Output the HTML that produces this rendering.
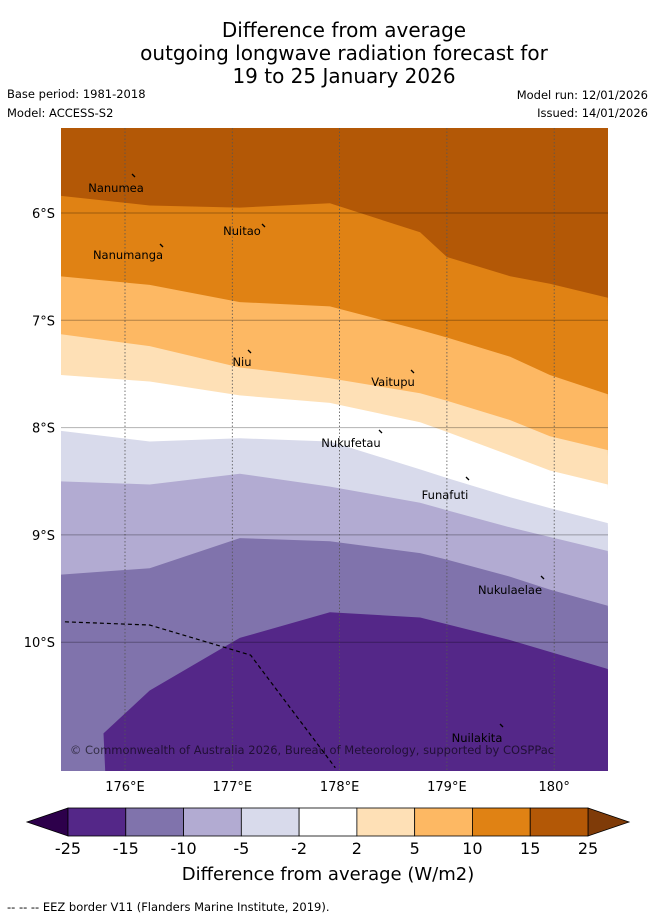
<!DOCTYPE html>
<html><head><meta charset="utf-8"><style>
body{margin:0;width:655px;height:919px;background:#fff;font-family:"DejaVu Sans","Liberation Sans",sans-serif;overflow:hidden}
svg{position:absolute;left:0;top:0}
</style></head><body>
<svg id="c" width="655" height="919">
<text x="344" y="37" font-size="20" text-anchor="middle">Difference from average</text>
<text x="344" y="60" font-size="20" text-anchor="middle">outgoing longwave radiation forecast for</text>
<text x="344" y="83" font-size="20" text-anchor="middle">19 to 25 January 2026</text>
<text x="7" y="98" font-size="11.5">Base period: 1981-2018</text>
<text x="7" y="117" font-size="11.5">Model: ACCESS-S2</text>
<text x="648" y="99" font-size="11.5" text-anchor="end">Model run: 12/01/2026</text>
<text x="648" y="117" font-size="11.5" text-anchor="end">Issued: 14/01/2026</text>
<defs><clipPath id="mapclip"><rect x="61" y="128" width="547" height="643"/></clipPath></defs>
<g id="map" clip-path="url(#mapclip)"></g>
<g id="over"></g>
<text x="7" y="911" font-size="11.5">-- -- -- EEZ border V11 (Flanders Marine Institute, 2019).</text>
</svg>
<script>
const lons=[175.4,176.23,177.07,177.91,178.75,179.0,179.59,179.96,180.5];
const b15=[5.84,5.93,5.95,5.91,6.18,6.41,6.59,6.66,6.79];
const b10=[6.59,6.67,6.83,6.87,7.09,7.16,7.34,7.51,7.69];
const b5=[7.13,7.24,7.44,7.54,7.68,7.75,7.93,8.08,8.21];
const b2=[7.51,7.57,7.70,7.77,7.95,8.04,8.26,8.40,8.53];
const bm2=[8.03,8.13,8.10,8.13,8.39,8.47,8.65,8.75,8.89];
const bm5=[8.50,8.53,8.43,8.55,8.70,8.77,8.93,9.02,9.15];
const bm10=[9.37,9.31,9.03,9.06,9.17,9.23,9.39,9.51,9.66];
const bm15Lons=[175.8,176.23,177.07,177.91,178.75,179.59,179.96,180.5];
const bm15=[10.85,10.45,9.96,9.72,9.77,9.98,10.09,10.25];
const eezLons=[175.44,176.23,177.17,177.96];
const eezLats=[9.81,9.84,10.12,11.17];
const levels=["-25","-15","-10","-5","-2","2","5","10","15","25"];
const colors=["#542788","#8073ac","#b2abd2","#d8daeb","#ffffff","#fee0b6","#fdb863","#e08214","#b35806"];
const lonTicks=[176,177,178,179,180];
const lonLabels=["176°E","177°E","178°E","179°E","180°"];
const latTicks=[6,7,8,9,10];
const latLabels=["6°S","7°S","8°S","9°S","10°S"];
const islands=[["Nanumea",116,192,134,176],["Nuitao",242,235,264,226],["Nanumanga",128,259,162,246],["Niu",242,366,250,352],["Vaitupu",393,386,413,372],["Nukufetau",351,447,381,432],["Funafuti",445,499,468,479],["Nukulaelae",510,594,543,578],["Nuilakita",477,742,502,726]];
const X=lon=>125+(lon-176)*107.3;
const Y=lat=>213+(lat-6)*107.3;
const NS="http://www.w3.org/2000/svg";
const map=document.getElementById('map'),over=document.getElementById('over');
function mk(tag,at,parent){const e=document.createElementNS(NS,tag);for(const k in at)e.setAttribute(k,at[k]);parent.appendChild(e);return e;}
let bg=mk('rect',{x:61,y:128,width:547,height:643,fill:colors[8]},map);


const bands=[[b15,colors[7],'band-10-15'],[b10,colors[6],'band-5-10'],[b5,colors[5],'band-2-5'],[b2,colors[4],'band-minus2-2'],[bm2,colors[3],'band-minus5-minus2'],[bm5,colors[2],'band-minus10-minus5'],[bm10,colors[1],'band-minus15-minus10']];
bands.forEach(([arr,col,name])=>{
 let pts=lons.map((l,i)=>X(l).toFixed(1)+','+Y(arr[i]).toFixed(1));
 pts.push(X(180.6)+','+Y(11.3),X(175.3)+','+Y(11.3));
 pts[0]=X(175.3)+','+Y(arr[0]).toFixed(1)+' '+pts[0];
 const p=mk('polygon',{points:pts.join(' '),fill:col},map);
 
 
});
{let pts=bm15Lons.map((l,i)=>X(l).toFixed(1)+','+Y(bm15[i]).toFixed(1));
 pts.push(X(180.6)+','+Y(11.3),X(175.82)+','+Y(11.3));
 const p=mk('polygon',{points:pts.join(' '),fill:colors[0]},map);
 
 }
lonTicks.forEach((t,i)=>{
 const l=mk('line',{x1:X(t),x2:X(t),y1:128,y2:771,stroke:'#555','stroke-width':0.8,'stroke-dasharray':'1.5,2'},map);
 
 
 const tx=mk('text',{x:X(t),y:791,'font-size':13,'text-anchor':'middle'},over);tx.textContent=lonLabels[i];
 
 
});
latTicks.forEach((t,i)=>{
 const l=mk('line',{x1:61,x2:608,y1:Y(t),y2:Y(t),stroke:'#000','stroke-opacity':0.3,'stroke-width':1},map);
 
 
 const tx=mk('text',{x:55,y:Y(t)+5,'font-size':13,'text-anchor':'end'},over);tx.textContent=latLabels[i];
 
 
});
{const e=mk('polyline',{points:eezLons.map((l,i)=>X(l)+','+Y(eezLats[i])).join(' '),fill:'none',stroke:'#000','stroke-width':1.2,'stroke-dasharray':'4,3'},map);
 
 }
islands.forEach(([n,tx,ty,mx,my])=>{
 const t=mk('text',{x:tx,y:ty,'font-size':11.5,'text-anchor':'middle'},map);t.textContent=n;
 
 
 const d=mk('path',{d:`M${mx-2},${my-2} l3,3`,stroke:'#000','stroke-width':1.3},map);
 
 
});
{const t=mk('text',{x:312,y:754,'font-size':11.5,'text-anchor':'middle',fill:'#000','fill-opacity':0.6},map);
 t.textContent='© Commonwealth of Australia 2026, Bureau of Meteorology, supported by COSPPac';
 
 }
const cb0=68,cb1=588,cy=808,ch=28,w=(cb1-cb0)/colors.length;
{const a=mk('polygon',{points:`${cb0},${cy} 27,${cy+ch/2} ${cb0},${cy+ch}`,fill:'#2d004b',stroke:'#000','stroke-width':0.8},over);
 
 const b=mk('polygon',{points:`${cb1},${cy} 629,${cy+ch/2} ${cb1},${cy+ch}`,fill:'#7f3b08',stroke:'#000','stroke-width':0.8},over);
 }
colors.forEach((c,i)=>{
 const r=mk('rect',{x:cb0+i*w,y:cy,width:w,height:ch,fill:c,stroke:'#000','stroke-width':0.8},over);
 
 
});
levels.forEach((lv,i)=>{
 const t=mk('text',{x:cb0+i*w,y:854,'font-size':16,'text-anchor':'middle'},over);t.textContent=lv;
 
 
});
{const t=mk('text',{x:328,y:880,'font-size':18,'text-anchor':'middle'},over);t.textContent='Difference from average (W/m2)';
 
 }
</script>
</body></html>
